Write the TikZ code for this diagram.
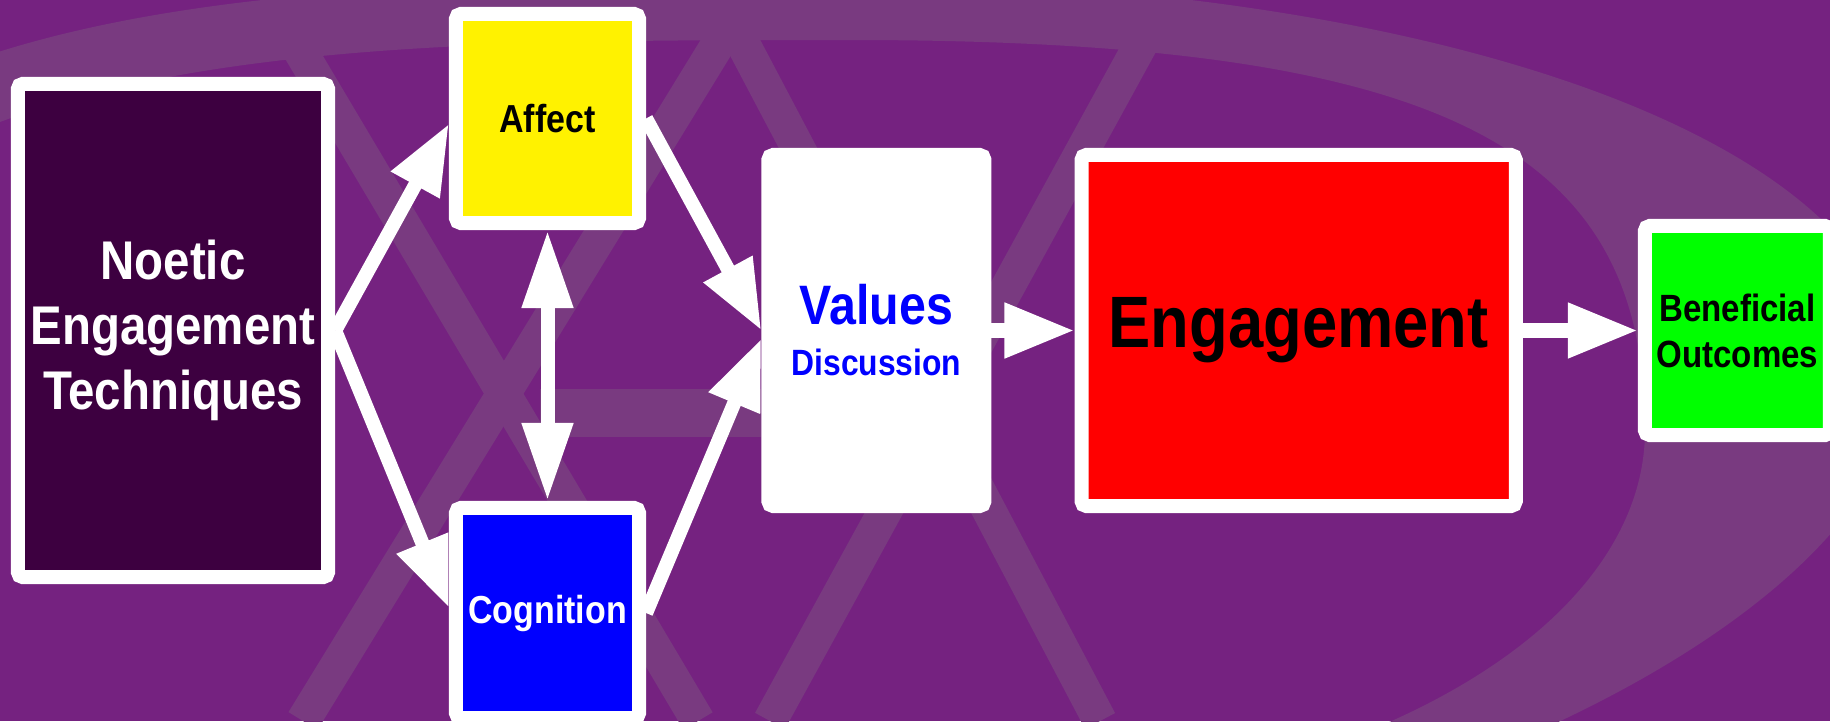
\documentclass[tikz,border=0pt]{standalone}
\usepackage{fontspec}
\setmainfont{Liberation Sans}[FakeStretch=0.87]
\usetikzlibrary{arrows.meta, positioning}

\definecolor{bgpurple}{RGB}{117,34,128}
\definecolor{bandpurple}{RGB}{121,58,128}
\definecolor{noeticpurple}{RGB}{61,0,64}

\begin{document}
\begin{tikzpicture}[x=0.01cm, y=-0.01cm,
		box/.style={draw=white, line width=0.14cm, rounded corners=0.05cm, inner sep=0pt, outer sep=0.07cm, align=center, font=\bfseries},
		link/.style={draw=white, line width=0.14cm, -{Triangle[length=0.7cm, width=0.52cm]}},
		duallink/.style={draw=white, line width=0.14cm, {Triangle[length=0.78cm, width=0.48cm]}-{Triangle[length=0.78cm, width=0.48cm]}},
		band/.style={draw=bandpurple, line width=0.34cm}]

		\useasboundingbox (0,0) rectangle (1830,721);

		% Background
		\begin{scope}
			\clip (0,0) rectangle (1830,721);
			\fill[bgpurple] (0,0) rectangle (1830,721);
			\fill[bandpurple, even odd rule]
				(-400,600) .. controls (-400,-20) and (200,-20) .. (850,-20)
				.. controls (1400,-20) and (1900,130) .. (1900,380)
				.. controls (1900,620) and (1350,880) .. (850,880)
				.. controls (100,880) and (-400,860) .. cycle
				(-330,600) .. controls (-330,40) and (250,40) .. (850,40)
				.. controls (1450,40) and (1645,150) .. (1645,430)
				.. controls (1645,640) and (1330,820) .. (850,820)
				.. controls (100,820) and (-330,800) .. cycle;
			\draw[band] (745,0) -- (303,721);
			\draw[band] (720,0) -- (1100,721);
			\draw[band] (1165,0) -- (770,721);
			\draw[band] (270,0) -- (698,721);
			\draw[band, line width=0.48cm] (540,413) -- (761,413);
		\end{scope}

		% Nodes
		\node[box, fill=noeticpurple, text=white, minimum width=3.10cm, minimum height=4.93cm,
			font=\fontsize{15.5}{18.5}\selectfont\bfseries] (noetic) at (173,330.5) {Noetic\\Engagement\\Techniques};
		\node[box, fill=yellow, text=black, minimum width=1.83cm, minimum height=2.09cm,
			font=\fontsize{11.1}{13}\selectfont\bfseries] (affect) at (547.5,118.5) {Affect};
		\node[box, fill=blue, text=white, minimum width=1.83cm, minimum height=2.10cm,
			font=\fontsize{11.1}{13}\selectfont\bfseries] (cognition) at (547.5,613) {Cognition};
		\node[box, fill=white, text=blue, minimum width=2.16cm, minimum height=3.51cm,
			font=\fontsize{10.4}{14.5}\selectfont\bfseries, right=4.26cm of noetic] (values) {{\fontsize{15.8}{14.5}\selectfont Values}\\Discussion};
		\node[box, fill=red, text=black, minimum width=4.34cm, minimum height=3.51cm,
			font=\fontsize{20.7}{24}\selectfont\bfseries, right=0.83cm of values] (engagement) {Engagement};
		\node[box, fill=green, text=black, minimum width=1.85cm, minimum height=2.09cm,
			font=\fontsize{10.8}{13.1}\selectfont\bfseries, right=1.15cm of engagement] (beneficial) {Beneficial\\Outcomes};

		% Edges
		\draw[link] (noetic.east) -- (affect.183);
		\draw[link] (noetic.east) -- (cognition.177);
		\draw[duallink] (affect.south) -- (cognition.north);
		\draw[link] (affect.east) -- (values.west);
		\draw[link] (cognition.east) -- (values.184);
		\draw[link] (values.east) -- (engagement.west);
		\draw[link] (engagement.east) -- (beneficial.west);

	\end{tikzpicture}
\end{document}
